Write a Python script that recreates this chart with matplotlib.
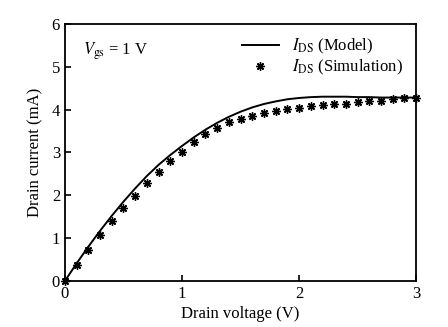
import numpy as np
import matplotlib.pyplot as plt

plt.rcParams['font.family'] = ['Liberation Serif', 'DejaVu Serif']
plt.rcParams['mathtext.fontset'] = 'stix'

# 漏极电压 (V)
vd = [0.0, 0.1, 0.2, 0.3, 0.4, 0.5, 0.6, 0.7, 0.8, 0.9, 1.0,
      1.1, 1.2, 1.3, 1.4, 1.5, 1.6, 1.7, 1.8, 1.9, 2.0,
      2.1, 2.2, 2.3, 2.4, 2.5, 2.6, 2.7, 2.8, 2.9, 3.0]
# 模型曲线
ids_model = [0.0, 0.41, 0.80, 1.17, 1.52, 1.85, 2.16, 2.45, 2.71, 2.94, 3.15,
             3.35, 3.53, 3.69, 3.83, 3.95, 4.05, 4.13, 4.19, 4.24, 4.27,
             4.29, 4.30, 4.30, 4.30, 4.29, 4.29, 4.28, 4.28, 4.28, 4.28]
# 仿真点
ids_sim = [0.0, 0.37, 0.72, 1.06, 1.39, 1.69, 1.98, 2.28, 2.55, 2.79, 3.02,
           3.24, 3.43, 3.56, 3.70, 3.78, 3.85, 3.91, 3.97, 4.01, 4.04,
           4.08, 4.10, 4.13, 4.14, 4.17, 4.21, 4.21, 4.24, 4.26, 4.28]

fig = plt.figure(figsize=(4.48, 3.27), dpi=100)
ax = fig.add_axes([0.145, 0.141, 0.784, 0.786])

ax.plot(vd, ids_model, 'k-', lw=1.4, label=r'$I_{\rm DS}$ (Model)')
ax.plot(vd, ids_sim, 'k', ls='none', marker=(8, 2, 0), ms=6, mew=1.0,
        label=r'$I_{\rm DS}$ (Simulation)', clip_on=False)

ax.set_xlim(0, 3)
ax.set_ylim(0, 6)
ax.set_xticks([0, 1, 2, 3])
ax.set_yticks([0, 1, 2, 3, 4, 5, 6])
ax.tick_params(direction='in', length=4, width=1.2, labelsize=12, top=False, right=False)
for s in ax.spines.values():
    s.set_linewidth(1.3)

ax.set_xlabel('Drain voltage (V)', fontsize=12, labelpad=3)
ax.set_ylabel('Drain current (mA)', fontsize=12, labelpad=6)

ax.text(0.05, 0.88, r'$V_{\rm gs}$ = 1 V', transform=ax.transAxes, fontsize=12)

ax.legend(loc='upper right', frameon=False, fontsize=12, handlelength=2.2,
          handletextpad=0.8, borderaxespad=0.4, labelspacing=0.1)

plt.savefig('out.png', dpi=100)
